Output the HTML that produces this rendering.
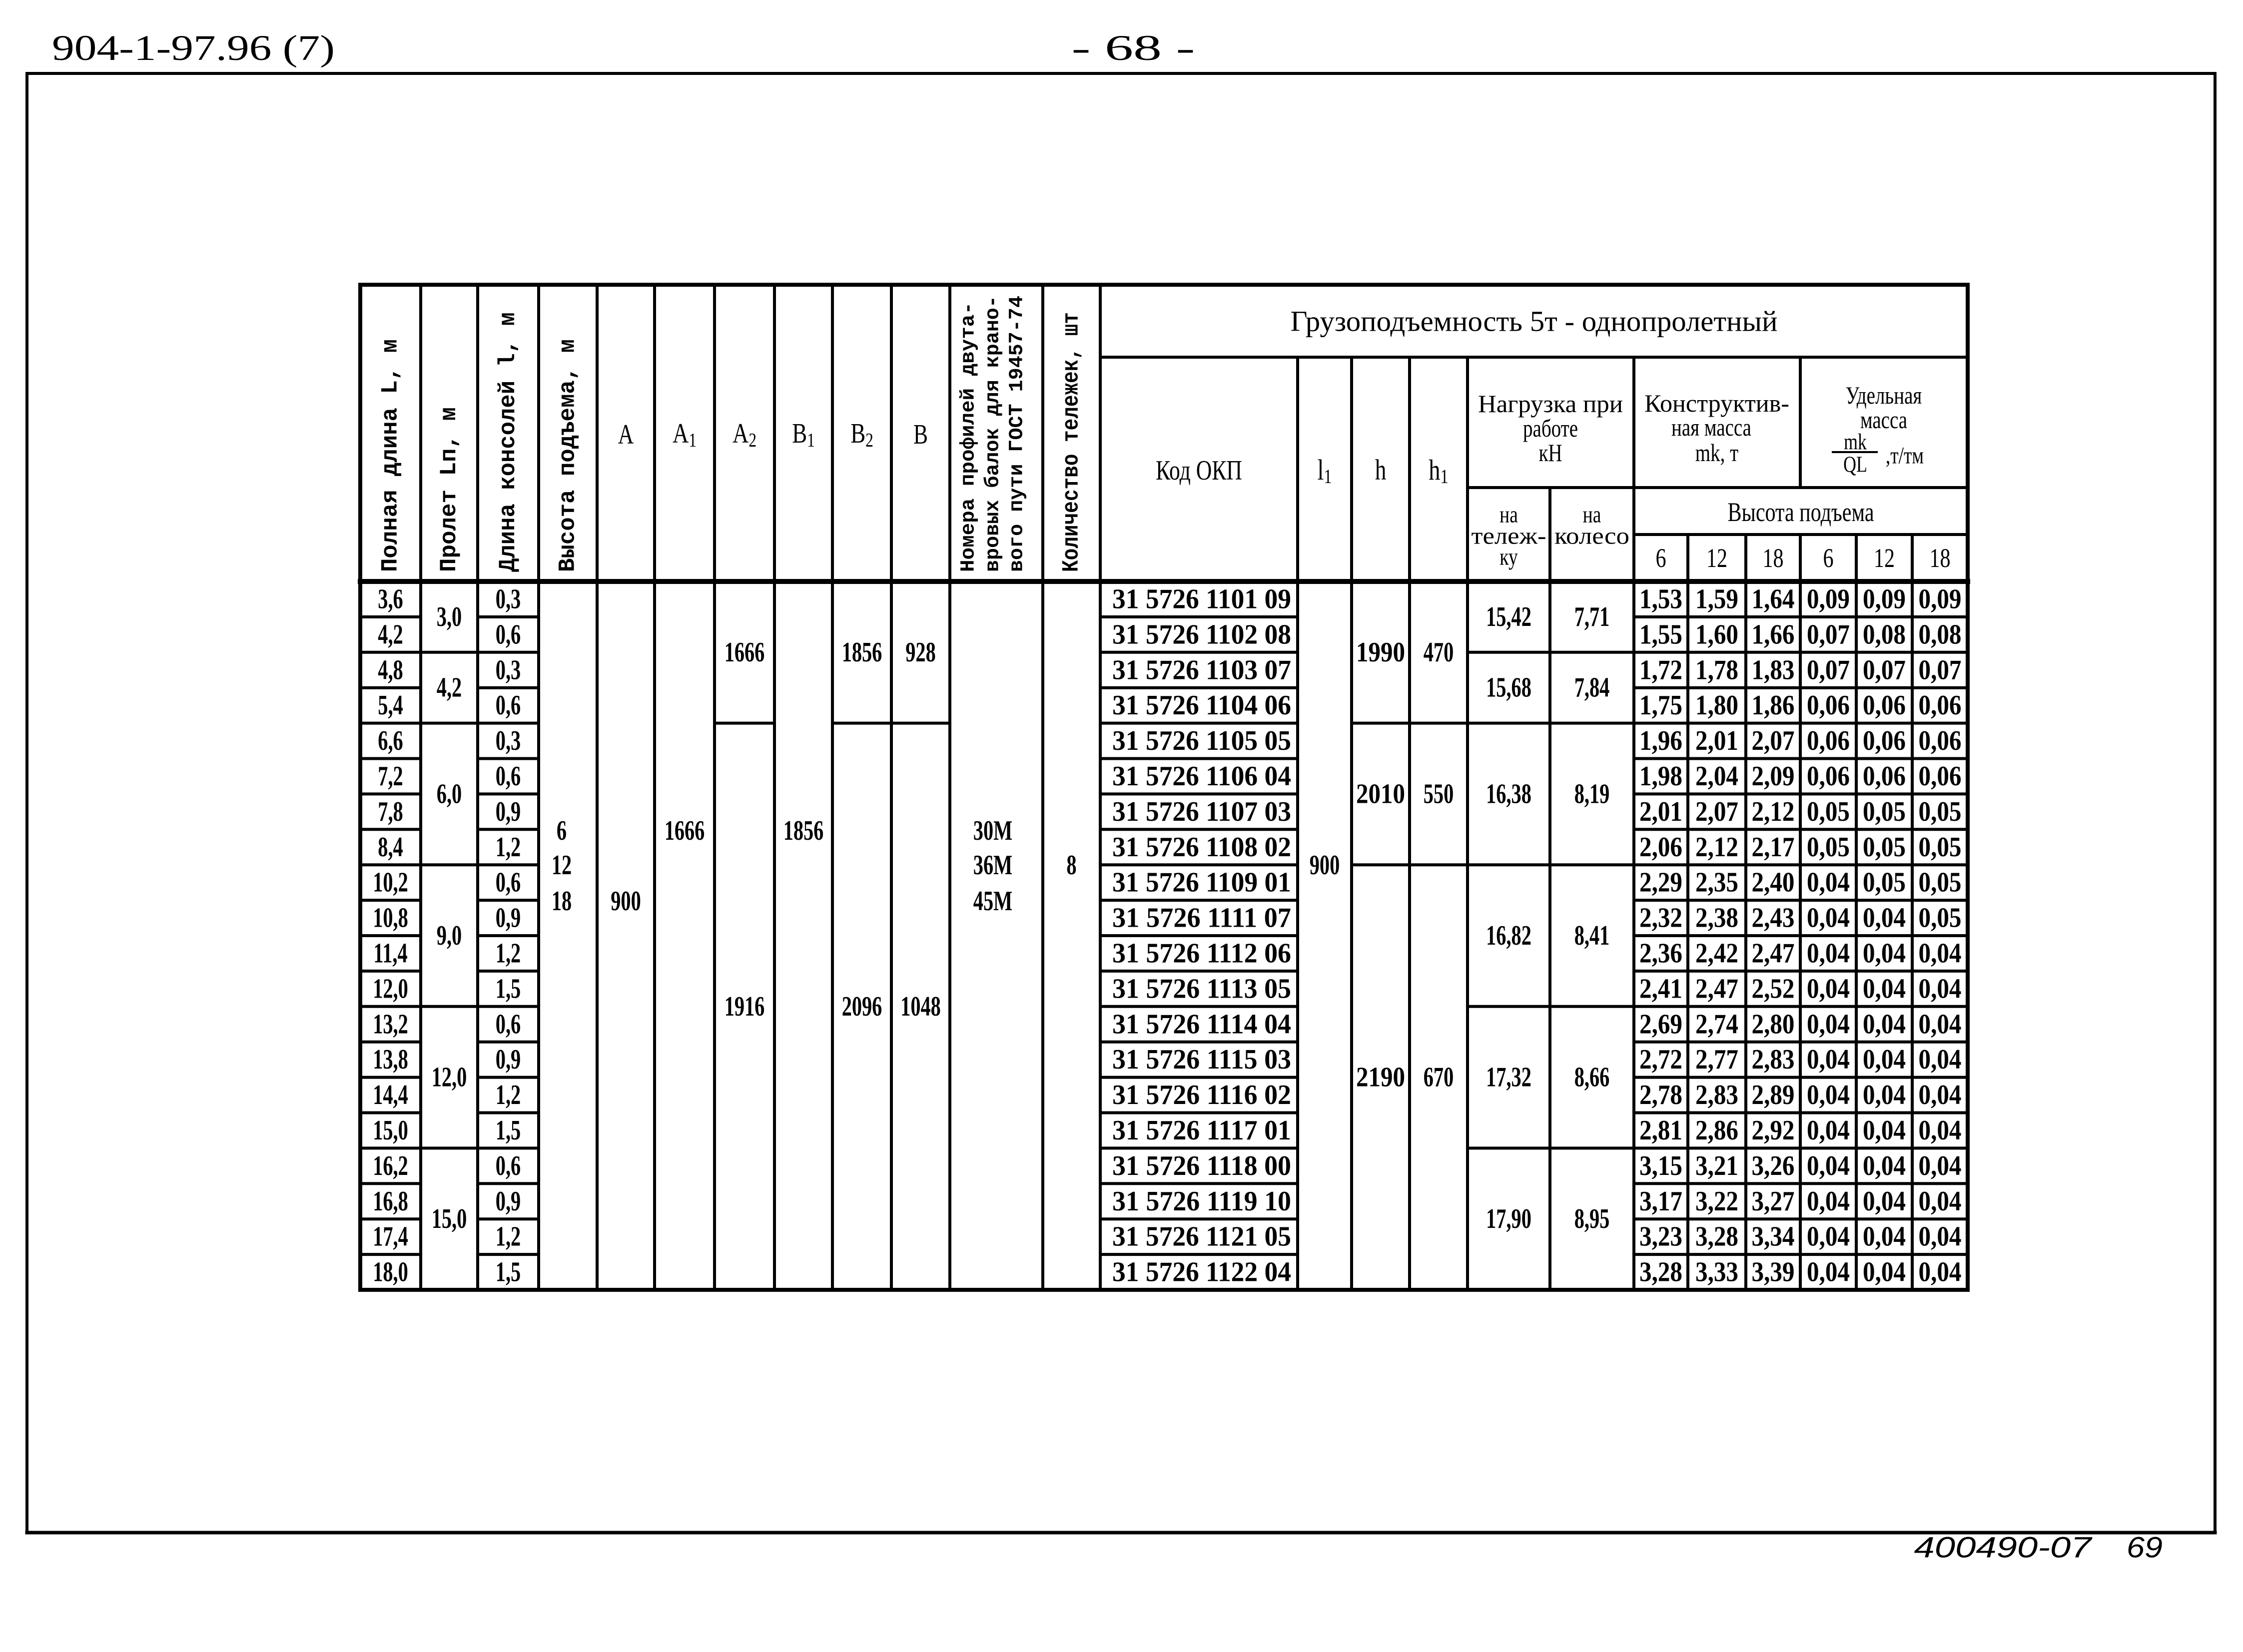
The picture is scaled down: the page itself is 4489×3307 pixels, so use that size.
<!DOCTYPE html>
<html><head><meta charset="utf-8">
<style>
html,body{margin:0;padding:0;background:#fff;}
svg{display:block;}
text{fill:#000;}
.s{font-family:"Liberation Serif","DejaVu Serif",serif;font-weight:bold;}
.n{font-family:"Liberation Serif","DejaVu Serif",serif;font-weight:normal;}
.m{font-family:"Liberation Mono","DejaVu Sans Mono",monospace;font-weight:bold;}
.i{font-family:"Liberation Sans","DejaVu Sans",sans-serif;font-style:italic;}
</style></head>
<body>
<svg id="g" width="4489" height="3307" viewBox="0 0 4489 3307" xmlns="http://www.w3.org/2000/svg">
<g id="lines" stroke="#000" stroke-linecap="square"></g>
<g id="txt"></g>
</svg>
<script>
(function(){
var NS="http://www.w3.org/2000/svg";
var L=document.getElementById('lines'),T=document.getElementById('txt');
function ln(x1,y1,x2,y2,w){var e=document.createElementNS(NS,'line');e.setAttribute('x1',x1);e.setAttribute('y1',y1);e.setAttribute('x2',x2);e.setAttribute('y2',y2);e.setAttribute('stroke-width',w||6);L.appendChild(e);}
var condList=[];
function tx(x,y,s,o){o=o||{};var e=document.createElementNS(NS,'text');e.setAttribute('x',x);e.setAttribute('y',y);
 e.setAttribute('class',o.c||'s');e.setAttribute('font-size',o.fs||54);
 e.setAttribute('text-anchor',o.a||'middle');e.setAttribute('dominant-baseline','central');
 if(o.rot)e.setAttribute('transform','rotate(-90 '+x+' '+y+')');
 e.textContent=s;T.appendChild(e);
 if(o.w){e.setAttribute('textLength',o.w);e.setAttribute('lengthAdjust','spacingAndGlyphs');}
 else if(o.k!==0)condList.push([e,o.k||0.78]);
 return e;}
function sub(x,y,base,sb,fs){var e=document.createElementNS(NS,'text');e.setAttribute('x',x);e.setAttribute('y',y);e.setAttribute('class','n');e.setAttribute('font-size',fs);e.setAttribute('text-anchor','middle');e.setAttribute('dominant-baseline','central');
 var t1=document.createElementNS(NS,'tspan');t1.textContent=base;var t2=document.createElementNS(NS,'tspan');t2.setAttribute('font-size',fs*0.7);t2.setAttribute('dy',fs*0.22);t2.textContent=sb;e.appendChild(t1);e.appendChild(t2);T.appendChild(e);condList.push([e,0.8]);}

// page text
tx(387,96,'904-1-97.96 (7)',{c:'n',fs:72,w:566});
tx(2268,96,'- 68 -',{c:'n',fs:72,w:247});
tx(4008,3098,'400490-07',{c:'i',fs:58,w:355});
tx(4292,3098,'69',{c:'i',fs:58,w:72});
// frame
ln(54,147,4433,147,6);ln(54,147,54,3068,6);ln(4433,147,4433,3068,6);ln(54,3068,4433,3068,7);

var X=[721,842,956,1078,1195,1310,1430,1550,1666,1784,1901,2087,2202,2597,2705,2821,2937,3102,3270,3378,3494,3603,3715,3827,3938];
var Y0=1164,RH=(2582-1164)/20,TOP=570,BOT=2582;
function ry(i){return Y0+i*RH;}
function cx(i){return (X[i]+X[i+1])/2;}
ln(721,TOP,3938,TOP,8);ln(721,BOT,3938,BOT,8);ln(721,TOP,721,BOT,8);ln(3938,TOP,3938,BOT,8);
ln(721,Y0,3938,Y0,10);
for(var i=1;i<=12;i++)ln(X[i],TOP,X[i],BOT,6);
[13,14,15,16,18].forEach(function(i){ln(X[i],715,X[i],BOT,6);});
ln(X[17],976,X[17],BOT,6);
ln(X[21],715,X[21],976,6);ln(X[21],1070,X[21],BOT,6);
[19,20,22,23].forEach(function(i){ln(X[i],1070,X[i],BOT,6);});
ln(2202,715,3938,715,6);ln(2937,976,3938,976,6);ln(3270,1070,3938,1070,6);
var all=[];for(i=1;i<20;i++)all.push(i);
var grp={0:all,1:[2,4,8,12,16],2:all,6:[4],8:[4],9:[4],12:all,14:[4,8],15:[4,8],16:[2,4,8,12,16],17:[2,4,8,12,16]};
for(i=18;i<24;i++)grp[i]=all;
for(var c in grp){c=+c;grp[c].forEach(function(r){ln(X[c],ry(r),X[c+1],ry(r),6);});}

var hb=1145;
tx(cx(0),hb,'Полная длина L, м',{c:'m',fs:46,a:'start',rot:1,w:466});
tx(cx(1),hb,'Пролет Lп, м',{c:'m',fs:46,a:'start',rot:1,w:330});
tx(cx(2),hb,'Длина консолей l, м',{c:'m',fs:46,a:'start',rot:1,w:520});
tx(cx(3),hb,'Высота подъема, м',{c:'m',fs:46,a:'start',rot:1,w:466});
tx(1939,hb,'Номера профилей двута-',{c:'m',fs:40,a:'start',rot:1,w:540});
tx(1988,hb,'вровых балок для крано-',{c:'m',fs:40,a:'start',rot:1,w:553});
tx(2036,hb,'вого пути ГОСТ 19457-74',{c:'m',fs:40,a:'start',rot:1,w:553});
tx(cx(11),hb,'Количество тележек, шт',{c:'m',fs:46,a:'start',rot:1,w:520});
tx(cx(4),870,'A',{c:'n',fs:56});
sub(cx(5),868,'A','1',56);sub(cx(6),868,'A','2',56);
sub(cx(7),868,'B','1',56);sub(cx(8),868,'B','2',56);
tx(cx(9),870,'B',{c:'n',fs:56});
tx(3070,643,'Грузоподъемность 5т - однопролетный',{c:'n',fs:58,w:975});
tx(cx(12),942,'Код ОКП',{c:'n',fs:56});
sub(cx(13),940,'l','1',58);tx(cx(14),940,'h',{c:'n',fs:58});sub(cx(15),940,'h','1',58);
tx(3103,808,'Нагрузка при',{c:'n',fs:50,w:290});
tx(3103,857,'работе',{c:'n',fs:50});
tx(3103,906,'кН',{c:'n',fs:50});
tx(3436,807,'Конструктив-',{c:'n',fs:50,w:290});
tx(3425,855,'ная масса',{c:'n',fs:50});
tx(3436,906,'mk, т',{c:'n',fs:50});
tx(3770,791,'Удельная',{c:'n',fs:50});
tx(3770,840,'масса',{c:'n',fs:50});
tx(3713,884,'mk',{c:'n',fs:46});ln(3668,905,3756,905,4);tx(3713,929,'QL',{c:'n',fs:46});
tx(3812,912,',т/тм',{c:'n',fs:48});
tx(cx(16),1030,'на',{c:'n',fs:48});tx(cx(16),1073,'тележ-',{c:'n',fs:48,w:150});tx(cx(16),1115,'ку',{c:'n',fs:48});
tx(cx(17),1030,'на',{c:'n',fs:48});tx(cx(17),1073,'колесо',{c:'n',fs:48,w:150});
tx(3604,1025,'Высота подъема',{c:'n',fs:54});
['6','12','18','6','12','18'].forEach(function(s,k){tx(cx(18+k),1117,s,{c:'n',fs:54});});

var Lv='3,6 4,2 4,8 5,4 6,6 7,2 7,8 8,4 10,2 10,8 11,4 12,0 13,2 13,8 14,4 15,0 16,2 16,8 17,4 18,0'.split(' ');
var lv='0,3 0,6 0,3 0,6 0,3 0,6 0,9 1,2 0,6 0,9 1,2 1,5 0,6 0,9 1,2 1,5 0,6 0,9 1,2 1,5'.split(' ');
var kd=['1101 09','1102 08','1103 07','1104 06','1105 05','1106 04','1107 03','1108 02','1109 01','1111 07','1112 06','1113 05','1114 04','1115 03','1116 02','1117 01','1118 00','1119 10','1121 05','1122 04'];
var ms=['1,53 1,59 1,64 0,09 0,09 0,09','1,55 1,60 1,66 0,07 0,08 0,08','1,72 1,78 1,83 0,07 0,07 0,07','1,75 1,80 1,86 0,06 0,06 0,06','1,96 2,01 2,07 0,06 0,06 0,06','1,98 2,04 2,09 0,06 0,06 0,06','2,01 2,07 2,12 0,05 0,05 0,05','2,06 2,12 2,17 0,05 0,05 0,05','2,29 2,35 2,40 0,04 0,05 0,05','2,32 2,38 2,43 0,04 0,04 0,05','2,36 2,42 2,47 0,04 0,04 0,04','2,41 2,47 2,52 0,04 0,04 0,04','2,69 2,74 2,80 0,04 0,04 0,04','2,72 2,77 2,83 0,04 0,04 0,04','2,78 2,83 2,89 0,04 0,04 0,04','2,81 2,86 2,92 0,04 0,04 0,04','3,15 3,21 3,26 0,04 0,04 0,04','3,17 3,22 3,27 0,04 0,04 0,04','3,23 3,28 3,34 0,04 0,04 0,04','3,28 3,33 3,39 0,04 0,04 0,04'];
for(var r=0;r<20;r++){
 var yc=ry(r)+RH/2;
 tx(cx(0),yc,Lv[r],{fs:56,k:0.72});
 tx(cx(2),yc,lv[r],{fs:56,k:0.72});
 tx(2226,yc,'31 5726 '+kd[r],{fs:56,a:'start',w:358});
 ms[r].split(' ').forEach(function(s,k){tx(cx(18+k),yc,s,{fs:56,w:86});});
}
function gc(a,b){return (ry(a)+ry(b))/2;}
[[0,2,'3,0'],[2,4,'4,2'],[4,8,'6,0'],[8,12,'9,0'],[12,16,'12,0'],[16,20,'15,0']].forEach(function(g){tx(cx(1),gc(g[0],g[1]),g[2],{fs:56,k:0.72});});
tx(1124,1663,'6',{fs:56,k:0.72});tx(1124,1732,'12',{fs:56,k:0.72});tx(1124,1804,'18',{fs:56,k:0.72});
tx(cx(4),1804,'900',{fs:56,k:0.72});
tx(cx(5),1663,'1666',{fs:56,k:0.72});
tx(cx(6),gc(0,4),'1666',{fs:56,k:0.72});tx(cx(6),gc(4,20),'1916',{fs:56,k:0.72});
tx(cx(7),1663,'1856',{fs:56,k:0.72});
tx(cx(8),gc(0,4),'1856',{fs:56,k:0.72});tx(cx(8),gc(4,20),'2096',{fs:56,k:0.72});
tx(cx(9),gc(0,4),'928',{fs:56,k:0.72});tx(cx(9),gc(4,20),'1048',{fs:56,k:0.72});
tx(1987,1663,'30M',{fs:56,k:0.72});tx(1987,1732,'36M',{fs:56,k:0.72});tx(1987,1804,'45M',{fs:56,k:0.72});
tx(cx(11),1732,'8',{fs:56,k:0.72});
tx(cx(13),1732,'900',{fs:56,k:0.72});
[[0,4,'1990','470'],[4,8,'2010','550'],[8,20,'2190','670']].forEach(function(g){var y=gc(g[0],g[1]);tx(cx(14),y,g[2],{fs:56,w:98});tx(cx(15),y,g[3],{fs:56,k:0.72});});
[[0,2,'15,42','7,71'],[2,4,'15,68','7,84'],[4,8,'16,38','8,19'],[8,12,'16,82','8,41'],[12,16,'17,32','8,66'],[16,20,'17,90','8,95']].forEach(function(g){var y=gc(g[0],g[1]);tx(cx(16),y,g[2],{fs:56,k:0.72});tx(cx(17),y,g[3],{fs:56,k:0.72});});

condList.forEach(function(p){var e=p[0];try{var n=e.getComputedTextLength();if(n>0){e.setAttribute('textLength',(n*p[1]).toFixed(1));e.setAttribute('lengthAdjust','spacingAndGlyphs');}}catch(err){}});
})();
</script>
</body></html>
